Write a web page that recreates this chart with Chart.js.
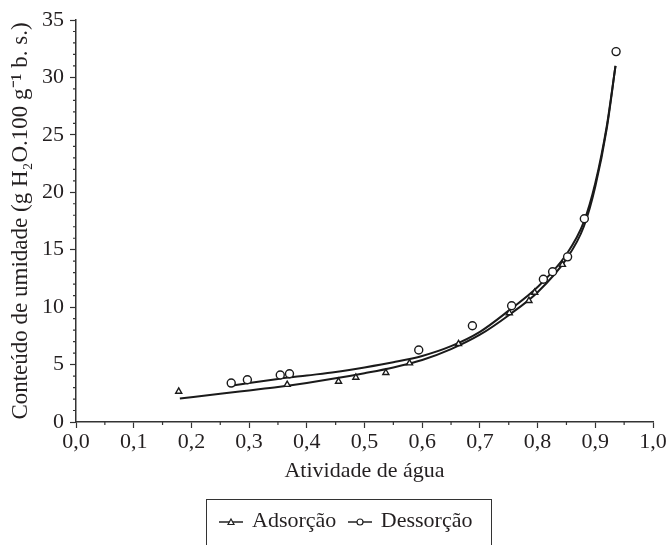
<!DOCTYPE html>
<html>
<head>
<meta charset="utf-8">
<script src="https://cdn.jsdelivr.net/npm/chart.js@4.4.0/dist/chart.umd.min.js"></script>
<style>
  body { margin: 0; background: #fff; }
  #wrap { position: relative; width: 670px; height: 545px; overflow: hidden; }
  #legend {
    position: absolute; left: 206px; top: 499px; width: 286px; height: 80px;
    border: 1.5px solid #333; box-sizing: border-box;
    padding: 7px 0 0 12px; white-space: nowrap;
    font: 22px "Liberation Serif", serif; color: #231f20;
  }
  #legend span { display: inline-block; }
  #legend svg { vertical-align: middle; margin-right: 9px; }
  #legend .gap { margin-left: 6px; }
</style>
</head>
<body>
<div id="wrap">
  <canvas id="myChart" width="670" height="545"></canvas>
  <div id="legend">
    <span><svg width="24" height="12"><line x1="0" y1="6" x2="24" y2="6" stroke="#222" stroke-width="1.5"/><path d="M12,3 L15,8.5 L9,8.5 Z" fill="#fff" stroke="#222" stroke-width="1.2"/></svg>Adsorção</span>
    <span class="gap"><svg width="24" height="12"><line x1="0" y1="6" x2="24" y2="6" stroke="#222" stroke-width="1.5"/><circle cx="12" cy="6" r="3" fill="#fff" stroke="#222" stroke-width="1.2"/></svg>Dessorção</span>
  </div>
</div>
<script>
const adsX = [0.178, 0.366, 0.455, 0.485, 0.537, 0.578, 0.663, 0.751, 0.785, 0.795, 0.843, 0.936];
const adsY = [2.66, 3.25, 3.53, 3.88, 4.29, 5.13, 6.81, 9.49, 10.56, 11.28, 13.7, 32.25];
const desX = [0.269, 0.297, 0.354, 0.370, 0.594, 0.687, 0.755, 0.810, 0.826, 0.852, 0.881, 0.936];
const desY = [3.39, 3.68, 4.09, 4.20, 6.27, 8.38, 10.12, 12.43, 13.08, 14.38, 17.7, 32.25];

// curvas ajustadas
const adsFitX = [0.18, 0.25, 0.30, 0.35, 0.40, 0.45, 0.50, 0.55, 0.60, 0.65, 0.70, 0.75, 0.80, 0.85, 0.88, 0.90, 0.92, 0.935];
const adsFitY = [2.05, 2.45, 2.75, 3.05, 3.4, 3.8, 4.25, 4.75, 5.4, 6.35, 7.6, 9.3, 11.3, 14.2, 17.0, 20.5, 25.6, 31.0];
const desFitX = [0.27, 0.30, 0.35, 0.40, 0.45, 0.50, 0.55, 0.60, 0.65, 0.70, 0.75, 0.80, 0.85, 0.88, 0.90, 0.92, 0.935];
const desFitY = [3.16, 3.4, 3.75, 4.05, 4.35, 4.75, 5.2, 5.75, 6.6, 7.85, 9.7, 11.75, 14.6, 17.4, 20.8, 25.8, 31.0];

const xTicks = [0, 1, 0.1];
const yTicks = [0, 35, 5];

const ink = "#231f20";
const serif = "'Liberation Serif', serif";

function pts(xs, ys) {
  return xs.map((x, i) => ({ x: x, y: ys[i] }));
}

// traços menores nos eixos
const minorTicks = {
  id: "minorTicks",
  afterDraw(chart) {
    const c = chart.ctx;
    const xs = chart.scales.x;
    const ys = chart.scales.y;
    c.save();
    c.strokeStyle = "#333";
    c.lineWidth = 1.2;
    c.beginPath();
    for (let v = 0.05; v < 1; v += 0.1) {
      const px = xs.getPixelForValue(v);
      c.moveTo(px, xs.top);
      c.lineTo(px, xs.top + 3);
    }
    for (let v = 1; v < 35; v++) {
      if (v % 5 === 0) continue;
      const py = ys.getPixelForValue(v);
      c.moveTo(ys.right, py);
      c.lineTo(ys.right - 3, py);
    }
    c.stroke();
    c.restore();
  },
};

const ctx = document.getElementById("myChart").getContext("2d");
const myChart = new Chart(ctx, {
  type: "scatter",
  data: {
    datasets: [
      {
        label: "Adsorção ajuste",
        data: pts(adsFitX, adsFitY),
        showLine: true,
        borderColor: "#1a1a1a",
        borderWidth: 2,
        pointRadius: 0,
        cubicInterpolationMode: "monotone",
        order: 3,
      },
      {
        label: "Dessorção ajuste",
        data: pts(desFitX, desFitY),
        showLine: true,
        borderColor: "#1a1a1a",
        borderWidth: 2,
        pointRadius: 0,
        cubicInterpolationMode: "monotone",
        order: 3,
      },
      {
        label: "Adsorção",
        data: pts(adsX, adsY),
        pointStyle: "triangle",
        pointRadius: 3.5,
        borderColor: "#1a1a1a",
        backgroundColor: "#fff",
        borderWidth: 1.4,
        order: 2,
      },
      {
        label: "Dessorção",
        data: pts(desX, desY),
        pointStyle: "circle",
        pointRadius: 4,
        borderColor: "#1a1a1a",
        backgroundColor: "#fff",
        borderWidth: 1.4,
        order: 1,
      },
    ],
  },
  options: {
    responsive: false,
    animation: false,
    layout: { padding: { top: 20, right: 17, left: 0, bottom: 53 } },
    plugins: { legend: { display: false }, tooltip: { enabled: false } },
    scales: {
      x: {
        type: "linear",
        min: xTicks[0],
        max: xTicks[1],
        afterFit: (s) => { s.height = 70; },
        ticks: {
          stepSize: xTicks[2],
          color: ink,
          font: { family: serif, size: 22 },
          padding: 1,
          maxRotation: 0,
          callback: (v) => v.toFixed(1).replace(".", ","),
        },
        grid: { drawOnChartArea: false, tickLength: 6, tickColor: "#333", tickWidth: 1.2 },
        border: { color: "#333", width: 1.5 },
        title: {
          display: true,
          text: "Atividade de água",
          color: ink,
          font: { family: serif, size: 22 },
          padding: { top: 0, bottom: 8 },
        },
      },
      y: {
        min: yTicks[0],
        max: yTicks[1],
        afterFit: (s) => { s.width = 76; },
        ticks: {
          stepSize: yTicks[2],
          color: ink,
          font: { family: serif, size: 22 },
          padding: 6,
        },
        grid: { drawOnChartArea: false, tickLength: 6, tickColor: "#333", tickWidth: 1.2 },
        border: { color: "#333", width: 1.5 },
        title: {
          display: true,
          text: "Conteúdo de umidade (g H₂O.100 g⁻¹ b. s.)",
          color: ink,
          font: { family: serif, size: 23 },
          padding: { top: 7, bottom: 0 },
        },
      },
    },
  },
  plugins: [minorTicks],
});
</script>
</body>
</html>
